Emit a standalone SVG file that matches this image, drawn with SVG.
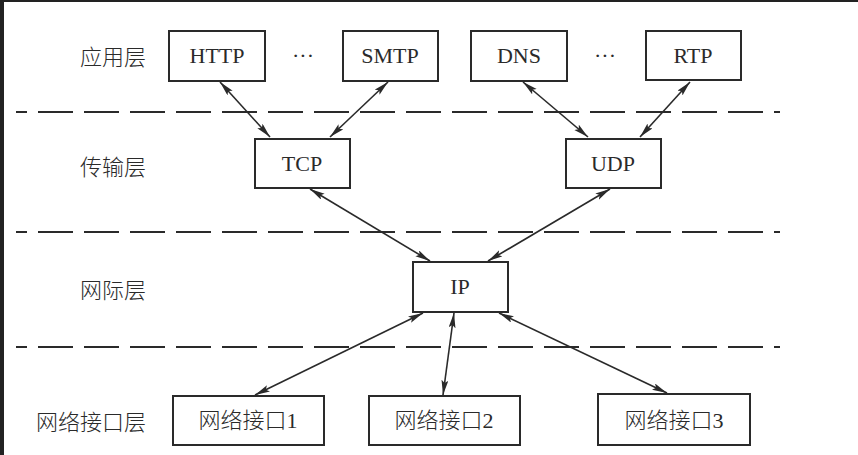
<svg xmlns="http://www.w3.org/2000/svg" width="858" height="455" viewBox="0 0 858 455">
<style>
.box{fill:#fff;stroke:#2a2a2a;stroke-width:2}
.t{font-family:"Liberation Serif","Times New Roman",serif;font-size:22px;fill:#2a2a2a;text-anchor:middle}
.c{font-family:"Liberation Serif","Noto Sans CJK SC",serif;font-size:22px;font-weight:300;fill:#2a2a2a;text-anchor:middle}
.lab{font-family:"Noto Sans CJK SC",sans-serif;font-size:22px;font-weight:300;fill:#2a2a2a;text-anchor:end}
.dash{stroke:#2a2a2a;stroke-width:2;stroke-dasharray:35 11;stroke-dashoffset:24}
.arr{stroke:#2a2a2a;stroke-width:1.6;fill:none;marker-start:url(#ah);marker-end:url(#ah)}
</style>
<defs>
<marker id="ah" markerUnits="userSpaceOnUse" markerWidth="16" markerHeight="8" refX="15" refY="3.5" orient="auto-start-reverse">
<path d="M0,0 L15,3.5 L0,7 L3,3.5 z" fill="#2a2a2a"/>
</marker>
</defs>
<rect x="0" y="0" width="858" height="455" fill="#fff"/>
<rect x="0" y="0" width="858" height="2" fill="#222"/>
<rect x="0" y="0" width="4" height="455" fill="#222"/>
<g id="layer-labels">
<text class="lab" x="146" y="65">应用层</text>
<text class="lab" x="146" y="175">传输层</text>
<text class="lab" x="146" y="298">网际层</text>
<text class="lab" x="146" y="430">网络接口层</text>
</g>
<g id="separators">
<line class="dash" x1="16" y1="112" x2="780" y2="112"/>
<line class="dash" x1="16" y1="232" x2="780" y2="232"/>
<line class="dash" x1="16" y1="347" x2="780" y2="347"/>
</g>
<g id="connectors">
<line class="arr" x1="220" y1="82" x2="270" y2="137"/>
<line class="arr" x1="388" y1="82" x2="330" y2="137"/>
<line class="arr" x1="523" y1="82" x2="588" y2="137"/>
<line class="arr" x1="690" y1="82" x2="640" y2="137"/>
<line class="arr" x1="310" y1="189" x2="430" y2="261"/>
<line class="arr" x1="610" y1="189" x2="488" y2="261"/>
<line class="arr" x1="423" y1="313" x2="255" y2="395"/>
<line class="arr" x1="454" y1="313" x2="443" y2="395"/>
<line class="arr" x1="499" y1="313" x2="667" y2="393"/>
</g>
<g id="http"><rect class="box" x="169" y="31" width="96" height="50"/><text class="t" x="217" y="63">HTTP</text></g>
<g id="dots1"><text class="t" x="303" y="63">···</text></g>
<g id="smtp"><rect class="box" x="343" y="31" width="95" height="50"/><text class="t" x="390" y="63">SMTP</text></g>
<g id="dns"><rect class="box" x="471" y="31" width="96" height="50"/><text class="t" x="519" y="63">DNS</text></g>
<g id="dots2"><text class="t" x="605" y="63">···</text></g>
<g id="rtp"><rect class="box" x="646" y="31" width="95" height="49"/><text class="t" x="693" y="63">RTP</text></g>
<g id="tcp"><rect class="box" x="255" y="139" width="95" height="49"/><text class="t" x="302" y="171">TCP</text></g>
<g id="udp"><rect class="box" x="566" y="139" width="95" height="49"/><text class="t" x="613" y="171">UDP</text></g>
<g id="ip"><rect class="box" x="413" y="262" width="95" height="50"/><text class="t" x="460" y="294">IP</text></g>
<g id="if1"><rect class="box" x="173" y="396" width="151" height="49"/><text class="c" x="248" y="428">网络接口1</text></g>
<g id="if2"><rect class="box" x="369" y="396" width="151" height="49"/><text class="c" x="444" y="428">网络接口2</text></g>
<g id="if3"><rect class="box" x="598" y="394" width="152" height="51"/><text class="c" x="674" y="428">网络接口3</text></g>
</svg>
